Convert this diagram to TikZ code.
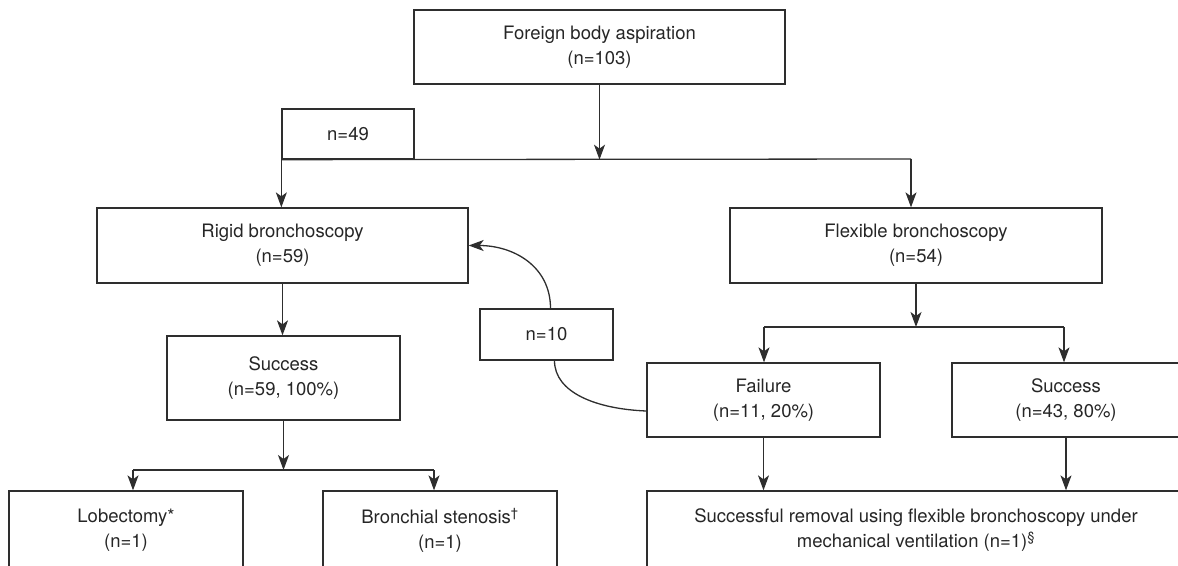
\documentclass[tikz,border=0pt]{standalone}
\usepackage{fontspec}
\setmainfont{TeX Gyre Heros}
\usetikzlibrary{arrows.meta}

\definecolor{linegray}{HTML}{2E2E2E}
\definecolor{textgray}{HTML}{262626}

\tikzset{
  box/.style={draw=linegray, line width=1.3pt, text=textgray, align=center,
    inner sep=0pt, font=\fontsize{18.5}{25}\selectfont},
  ln/.style={draw=linegray, line width=1.3pt},
  arr/.style={ln, -{Stealth[length=15pt,width=11pt,inset=4pt]}}
}

\begin{document}
\begin{tikzpicture}[x=1pt,y=-1pt]

\useasboundingbox (0,0) rectangle (1178,565);
\clip (0,0) rectangle (1178,565);

% boxes
\node[box, minimum width=371pt, minimum height=74pt] (fba) at (599.5,47) {Foreign body aspiration\\(n=103)};
\node[box, minimum width=132pt, minimum height=50pt] (n49) at (348,134) {n=49};
\node[box, minimum width=371pt, minimum height=75pt] (rigid) at (282.5,245.5) {Rigid bronchoscopy\\(n=59)};
\node[box, minimum width=372pt, minimum height=75pt] (flex) at (916,245.5) {Flexible bronchoscopy\\(n=54)};
\node[box, minimum width=233pt, minimum height=84pt] (rsucc) at (283.5,378) {Success\\(n=59, 100\%)};
\node[box, minimum width=133pt, minimum height=51pt] (n10) at (546.5,334.5) {n=10};
\node[box, minimum width=233pt, minimum height=74pt] (fail) at (763.5,400) {Failure\\(n=11, 20\%)};
\node[box, minimum width=228pt, minimum height=74pt] (fsucc) at (1066,400) {Success\\(n=43, 80\%)};
\node[box, minimum width=234pt, minimum height=78pt] (lob) at (126,530) {Lobectomy*\\(n=1)};
\node[box, minimum width=234pt, minimum height=78pt] (sten) at (440,530) {Bronchial stenosis\textsuperscript{\textdagger}\\(n=1)};
\node[box, minimum width=538pt, minimum height=78pt] (mech) at (916,530) {Successful removal using flexible bronchoscopy under\\mechanical ventilation (n=1)\textsuperscript{\S}};

% junctions
\coordinate (jtop) at (fba.south |- n49.south);
\coordinate (jflex) at (911,159);
\coordinate (jleft) at (283.5,470);
\coordinate (jlob) at (133,470);
\coordinate (jsten) at (434,470);
\coordinate (jright) at (916,327);
\coordinate (jfail) at (764,327);
\coordinate (jfsucc) at (1064,327);

% top split
\draw[arr] (fba.south) -- (jtop);
\draw[ln] (n49.south west) -- (jflex);
\draw[arr] (n49.south west) -- (rigid.north -| n49.south west);
\draw[arr] (jflex) -- (jflex |- flex.north);

% rigid branch
\draw[arr] (rigid.south) -- (rigid.south |- rsucc.north);
\draw[arr] (rsucc.south) -- (jleft);
\draw[ln] (jlob) -- (jsten);
\foreach \c/\b in {jlob/lob, jsten/sten}
    \draw[arr] (\c) -- (\c |- \b.north);

% flexible branch
\draw[arr] (flex.south) -- (jright);
\draw[ln] (jfail) -- (jfsucc);
\foreach \c/\b in {jfail/fail, jfsucc/fsucc}
    \draw[arr] (\c) -- (\c |- \b.north);
\foreach \b in {fail, fsucc}
    \draw[arr] (\b.south) -- (\b.south |- mech.north);

% failures back to rigid
\draw[arr] ([xshift=4pt]n10.north) .. controls +(0,-42) and +(45,0) .. (rigid.east);
\draw[ln] ([xshift=8pt]n10.south) .. controls +(0,32) and +(-50,-2) .. ([yshift=-11pt]fail.west);

\end{tikzpicture}
\end{document}
